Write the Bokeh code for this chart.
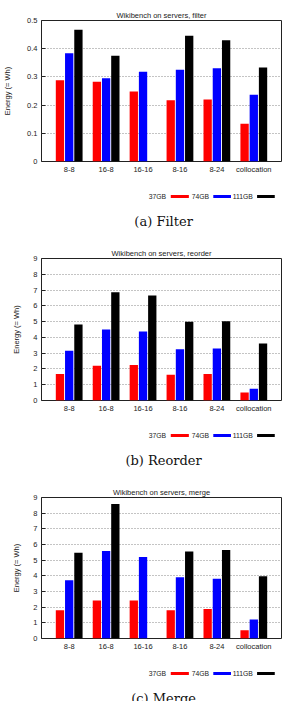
import numpy as np
from bokeh.plotting import figure
from bokeh.layouts import column
from bokeh.models import (FactorRange, Range1d, FixedTicker, Label, BoxAnnotation,
                          CustomJSTickFormatter, ColumnDataSource)
from bokeh.transform import dodge
from bokeh.embed import file_html
from bokeh.resources import INLINE

# Configurations on the x axis and the three data sizes
categories = ["8-8", "16-8", "16-16", "8-16", "8-24", "collocation"]
series_names = ["37GB", "74GB", "111GB"]
nan = float("nan")

# Energy (Wh) for the filter operation
filter_37 = [0.288, 0.283, 0.248, 0.217, 0.220, 0.134]
filter_74 = [0.384, 0.295, 0.318, 0.325, 0.331, 0.237]
filter_111 = [0.467, 0.375, nan, 0.446, 0.430, 0.333]

# Energy (Wh) for the reorder operation
reorder_37 = [1.68, 2.21, 2.25, 1.63, 1.68, 0.51]
reorder_74 = [3.16, 4.50, 4.37, 3.25, 3.29, 0.74]
reorder_111 = [4.82, 6.86, 6.65, 4.99, 5.03, 3.61]

# Energy (Wh) for the merge operation
merge_37 = [1.80, 2.42, 2.42, 1.80, 1.89, 0.53]
merge_74 = [3.72, 5.58, 5.20, 3.91, 3.82, 1.21]
merge_111 = [5.48, 8.58, nan, 5.56, 5.65, 3.97]

filter_ticks = [0, 0.1, 0.2, 0.3, 0.4, 0.5]
energy_ticks = [0, 1, 2, 3, 4, 5, 6, 7, 8, 9]

COLORS = ["#ff0000", "#0000ff", "#000000"]
SANS = "Liberation Sans"
SERIF = "DejaVu Serif"
W = 285
INK = "#222222"


def chart(title, s37, s74, s111, ticks, left, height):
    src = ColumnDataSource(dict(cat=categories,
                                a=np.array(s37, dtype=float),
                                b=np.array(s74, dtype=float),
                                c=np.array(s111, dtype=float)))
    p = figure(x_range=FactorRange(factors=categories, range_padding=0.25,
                                   range_padding_units="absolute"),
               y_range=Range1d(ticks[0], ticks[-1]),
               width=W, height=height, output_backend="svg", toolbar_location=None,
               min_border_left=left, min_border_right=4, min_border_top=20,
               min_border_bottom=19)
    p.background_fill_color = "white"
    p.border_fill_color = "white"
    p.outline_line_color = INK
    p.outline_line_width = 1

    p.title.text = title
    p.title.align = "center"
    p.title.text_font = SANS
    p.title.text_font_size = "7.5px"
    p.title.text_font_style = "normal"
    p.title.text_color = INK
    p.title.standoff = 2

    for col, off, color in zip(["a", "b", "c"], [-0.25, 0.0, 0.25], COLORS):
        p.vbar(x=dodge("cat", off, range=p.x_range), top=col, width=0.225,
               bottom=0, source=src, fill_color=color, line_color=None)

    xa = p.xaxis[0]
    xa.axis_line_color = None
    xa.major_tick_line_color = None
    xa.major_tick_in = 0
    xa.major_tick_out = 0
    xa.minor_tick_line_color = None
    xa.major_label_text_font = SANS
    xa.major_label_text_font_size = "7.5px"
    xa.major_label_text_color = INK
    xa.major_label_standoff = 3

    ya = p.yaxis[0]
    ya.ticker = FixedTicker(ticks=ticks)
    ya.formatter = CustomJSTickFormatter(code="return String(Math.round(tick * 10) / 10)")
    ya.axis_line_color = None
    ya.major_tick_in = 4
    ya.major_tick_out = 0
    ya.major_tick_line_color = INK
    ya.minor_tick_line_color = None
    ya.major_label_text_font = SANS
    ya.major_label_text_font_size = "7.5px"
    ya.major_label_text_color = INK
    ya.major_label_standoff = 4
    ya.axis_label = "Energy (= Wh)"
    ya.axis_label_text_font = SANS
    ya.axis_label_text_font_size = "7.5px"
    ya.axis_label_text_font_style = "normal"
    ya.axis_label_text_color = INK
    ya.axis_label_standoff = 9 if left < 33 else 12

    p.xgrid.grid_line_color = None
    p.ygrid.grid_line_color = "#888888"
    p.ygrid.grid_line_dash = "1 2"
    p.ygrid.grid_line_width = 1
    return p


def footer(caption, height):
    # key row (label, then swatch) and the sub-figure caption, laid out in pixels
    f = figure(width=W, height=height, x_range=Range1d(0, W), y_range=Range1d(height, 0),
               x_axis_type=None, y_axis_type=None, output_backend="svg",
               toolbar_location=None, min_border=0)
    f.outline_line_color = None
    f.background_fill_color = "white"
    f.border_fill_color = "white"
    f.grid.visible = False
    key_y = 16
    entries = [(series_names[0], 148, 153.5, 175, COLORS[0]),
               (series_names[1], 199, 204, 225, COLORS[1]),
               (series_names[2], 251, 256, 277, COLORS[2])]
    for name, text_right, sw_l, sw_r, color in entries:
        f.add_layout(Label(x=text_right, y=key_y, text=name, text_align="right",
                           text_baseline="middle", text_font=SANS,
                           text_font_size="6.8px", text_color=INK))
        f.add_layout(BoxAnnotation(left=sw_l, right=sw_r, bottom=key_y + 1.6,
                                   top=key_y - 1.6, fill_color=color, fill_alpha=1,
                                   line_color=None))
    f.add_layout(Label(x=145, y=41, text=caption, text_align="center",
                       text_baseline="middle", text_font=SERIF,
                       text_font_size="13px", text_color="#111111"))
    return f


p1 = chart("Wikibench on servers, filter", filter_37, filter_74, filter_111,
           filter_ticks, 37, 180)
f1 = footer("(a) Filter", 58)
p2 = chart("Wikibench on servers, reorder", reorder_37, reorder_74, reorder_111,
           energy_ticks, 29, 181)
f2 = footer("(b) Reorder", 58)
p3 = chart("Wikibench on servers, merge", merge_37, merge_74, merge_111,
           energy_ticks, 29, 180)
f3 = footer("(c) Merge", 44)

layout = column(p1, f1, p2, f2, p3, f3, spacing=0)
open("out.html", "w").write(file_html(layout, INLINE))
